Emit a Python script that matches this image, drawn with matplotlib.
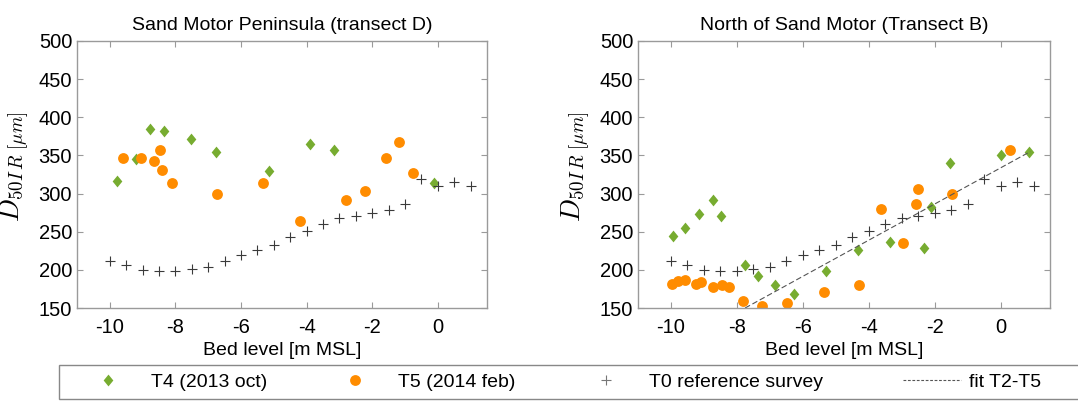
import matplotlib
matplotlib.use("Agg")
import matplotlib.pyplot as plt
from matplotlib.lines import Line2D
from matplotlib.patches import Rectangle

plt.rcParams['font.family'] = ['Liberation Sans', 'DejaVu Sans']
plt.rcParams['mathtext.fontset'] = 'cm'
plt.rcParams['axes.unicode_minus'] = False

# T0 reference survey (same in both panels)
t0_x = [-10, -9.5, -9, -8.5, -8, -7.5, -7, -6.5, -6, -5.5, -5, -4.5, -4, -3.5,
        -3, -2.5, -2, -1.5, -1, -0.5, 0, 0.5, 1]
t0_y = [212, 206, 200, 199, 198, 201, 204, 212, 219, 226, 233, 243, 251, 260,
        268, 271, 275, 278, 286, 319, 310, 315, 310]

# Sand Motor Peninsula (transect D)
d_t4_x = [-9.77, -9.21, -8.76, -8.35, -7.53, -6.76, -5.16, -3.91, -3.15, -0.13]
d_t4_y = [317, 345, 384, 382, 371, 354, 330, 365, 357, 314]
d_t5_x = [-9.61, -9.05, -8.65, -8.48, -8.40, -8.09, -6.74, -5.34, -4.21, -2.79,
          -2.23, -1.59, -1.17, -0.75]
d_t5_y = [346, 347, 343, 357, 331, 314, 300, 314, 264, 291, 304, 346, 367, 327]

# North of Sand Motor (transect B)
b_t4_x = [-9.93, -9.57, -9.14, -8.73, -8.47, -7.76, -7.35, -6.83, -6.28, -5.31,
          -4.32, -3.35, -2.33, -2.11, -1.54, 0.02, 0.86]
b_t4_y = [244, 255, 273, 292, 271, 207, 192, 180, 169, 198,
          226, 237, 228, 282, 340, 350, 355]
b_t5_x = [-9.96, -9.78, -9.57, -9.23, -9.08, -8.73, -8.45, -8.25, -7.80, -7.23,
          -6.48, -5.37, -4.28, -3.62, -2.97, -2.57, -2.51, -1.47, 0.29]
b_t5_y = [182, 186, 187, 181, 184, 177, 180, 178, 159, 153,
          157, 171, 180, 280, 235, 286, 306, 299, 357]
fit_x = [-7.75, 0.9]
fit_y = [150, 355]

titles = ["Sand Motor Peninsula (transect D)", "North of Sand Motor (Transect B)"]
legend_labels = ["T4 (2013 oct)", "T5 (2014 feb)", "T0 reference survey", "fit T2-T5"]

green = '#77ac30'
orange = '#ff8c00'
plus_col = '#3a3a3a'
spine_col = '#9a9a9a'
diamond = [(0, 0.5), (0.41, 0), (0, -0.5), (-0.41, 0), (0, 0.5)]

W, H = 1078, 401
fig = plt.figure(figsize=(W / 100, H / 100), dpi=100)
ax1 = fig.add_axes([77 / W, 1 - 308 / H, 410 / W, 267 / H])
ax2 = fig.add_axes([638 / W, 1 - 308 / H, 412 / W, 267 / H])

panels = [(ax1, d_t4_x, d_t4_y, d_t5_x, d_t5_y, False),
          (ax2, b_t4_x, b_t4_y, b_t5_x, b_t5_y, True)]

for i, (ax, gx, gy, ox, oy, has_fit) in enumerate(panels):
    ax.plot(gx, gy, linestyle='none', marker=diamond, markersize=8.5,
            color=green, markeredgewidth=0)
    ax.plot(ox, oy, linestyle='none', marker='o', markersize=7.8,
            color=orange, markeredgewidth=0)
    ax.plot(t0_x, t0_y, linestyle='none', marker='+', markersize=7,
            color=plus_col, markeredgewidth=0.8)
    if has_fit:
        ax.plot(fit_x, fit_y, linestyle=(0, (5, 2.5)), color='#555555', linewidth=0.8)

    ax.set_xlim(-11, 1.5)
    ax.set_ylim(150, 500)
    ax.set_xticks([-10, -8, -6, -4, -2, 0])
    ax.set_yticks([150, 200, 250, 300, 350, 400, 450, 500])
    ax.tick_params(direction='in', length=4, width=0.8, color=spine_col,
                   top=True, right=True, labelsize=14.5)
    ax.tick_params(axis='x', pad=7)
    for sp in ax.spines.values():
        sp.set_color(spine_col)
        sp.set_linewidth(1.0)

    ax.set_title(titles[i], fontsize=14, pad=8)
    ax.set_xlabel("Bed level [m MSL]", fontsize=14, labelpad=4)
    ax.set_ylabel(r'$D_{50I\,R\ [\mu m]}$', fontsize=19.5)
    ax.yaxis.set_label_coords(-46 / 410, 0.53)

# legend frame
fig.patches.append(Rectangle((59 / W, 2 / H), 1040 / W, 34 / H, transform=fig.transFigure,
                             facecolor='white', edgecolor='#888888', linewidth=1.0,
                             zorder=0))

handles = [
    Line2D([], [], linestyle='none', marker=diamond, markersize=8.5, color=green,
           markeredgewidth=0),
    Line2D([], [], linestyle='none', marker='o', markersize=7.8, color=orange,
           markeredgewidth=0),
    Line2D([], [], linestyle='none', marker='+', markersize=7, color='#777777',
           markeredgewidth=0.8),
    Line2D([], [], linestyle=(0, (2.5, 1.5)), color='#555555', linewidth=0.8),
]
# (left edge of handle px, handlelength em, text pad em)
slots = [(89, 2.0, 1.18), (336, 2.0, 1.18), (587, 2.0, 1.18), (903, 3.0, 0.4)]
for h, lab, (x0, hl, tp) in zip(handles, legend_labels, slots):
    fig.legend(handles=[h], labels=[lab], loc='center left',
               bbox_to_anchor=(x0 / W, 1 - 382 / H), frameon=False,
               borderpad=0, borderaxespad=0, handlelength=hl,
               handletextpad=tp, fontsize=14)

fig.savefig("out.png", dpi=100)
